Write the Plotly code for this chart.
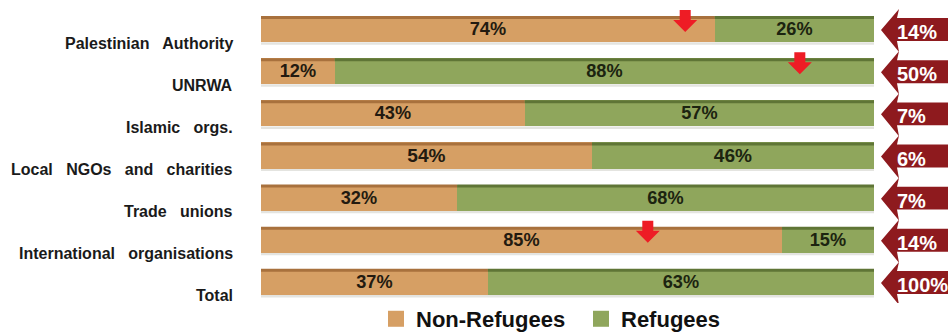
import plotly.graph_objects as go

# ---------------- data ----------------
categories = ["Palestinian\u00a0\u00a0 Authority", "UNRWA", "Islamic\u00a0\u00a0 orgs.",
              "Local\u00a0\u00a0 NGOs\u00a0\u00a0 and\u00a0\u00a0 charities", "Trade\u00a0\u00a0 unions",
              "International\u00a0\u00a0 organisations", "Total"]
non_refugees = [74, 12, 43, 54, 32, 85, 37]
refugees = [26, 88, 57, 46, 68, 15, 63]
share_labels = ["14%", "50%", "7%", "6%", "7%", "14%", "100%"]
red_marker_rows = [0, 1, 5]
red_marker_x = [69.2, 87.9, 63.1]

# ---------------- style ----------------
W, H = 948, 333
L, R, T, B = 261, 74, 7.5, 30
PW = W - L - R
PH = H - T - B
YUNIT = PH / 7.0          # pixels per category
XUNIT = PW / 100.0        # pixels per percent

C_ORANGE = "#D69F64"
C_GREEN = "#8FA65C"
C_ORANGE_EDGE = "#A8713D"
C_GREEN_EDGE = "#5F7536"
C_ARROW = "#8E1A1E"
C_RED = "#EE1C25"
FONT = "Liberation Sans, Arial, sans-serif"
BAR_W = 0.62

ypos = list(range(len(categories)))


def px_to_paper_x(px):
    return (px - L) / PW


fig = go.Figure()
fig.add_trace(go.Bar(
    y=ypos, x=non_refugees, orientation="h", name="Non-Refugees",
    marker=dict(color=C_ORANGE, line=dict(width=0)), width=BAR_W,
    text=[f"{v}%" for v in non_refugees], textposition="inside",
    insidetextanchor="middle", textangle=0,
    textfont=dict(family=FONT, size=20, color="#231a10", weight="bold"),
    showlegend=False, hoverinfo="skip"))
fig.add_trace(go.Bar(
    y=ypos, x=refugees, orientation="h", name="Refugees",
    marker=dict(color=C_GREEN, line=dict(width=0)), width=BAR_W,
    text=[f"{v}%" for v in refugees], textposition="inside",
    insidetextanchor="middle", textangle=0,
    textfont=dict(family=FONT, size=20, color="#1c2410", weight="bold"),
    showlegend=False, hoverinfo="skip"))

# legend entries
for nm, col in [("Non-Refugees", C_ORANGE), ("Refugees", C_GREEN)]:
    fig.add_trace(go.Scatter(x=[None], y=[None], mode="markers", name=nm,
                             marker=dict(symbol="square", size=16, color=col),
                             showlegend=True, hoverinfo="skip"))

shapes = []
annotations = []
edge_h = 3.0 / YUNIT
for i, (nr, rf) in enumerate(zip(non_refugees, refugees)):
    top = i - BAR_W / 2
    bot = i + BAR_W / 2
    # darker top edge (3D look)
    shapes.append(dict(type="rect", xref="x", yref="y", x0=0, x1=nr, y0=top, y1=top + edge_h,
                       fillcolor=C_ORANGE_EDGE, line=dict(width=0), layer="above"))
    shapes.append(dict(type="rect", xref="x", yref="y", x0=nr, x1=nr + rf, y0=top, y1=top + edge_h,
                       fillcolor=C_GREEN_EDGE, line=dict(width=0), layer="above"))
    # light shadow below
    shapes.append(dict(type="rect", xref="x", yref="y", x0=0, x1=nr + rf, y0=bot, y1=bot + 2.5 / YUNIT,
                       fillcolor="#E4E4E0", line=dict(width=0), layer="below"))
    # dark right cap
    shapes.append(dict(type="rect", xref="x", yref="y", x0=nr + rf, x1=nr + rf + 3 / XUNIT,
                       y0=top, y1=bot, fillcolor="#4A5E2A", line=dict(width=0), layer="above"))

    # left-pointing share arrow (paper x, data y)
    def P(px, dy):
        return f"{px_to_paper_x(px):.5f},{i + dy / YUNIT:.5f}"
    path = ("M " + P(881, 1) + " L " + P(899, -20) + " L " + P(897, -11) + " L " + P(950, -11)
            + " L " + P(950, 12) + " L " + P(897, 12) + " L " + P(899, 23) + " Z")
    shapes.append(dict(type="path", xref="paper", yref="y", path=path,
                       fillcolor=C_ARROW, line=dict(width=0), layer="above"))
    annotations.append(dict(x=px_to_paper_x(895), y=i, xref="paper", yref="y",
                            text=share_labels[i], showarrow=False, xanchor="left",
                            yanchor="middle", yshift=-3,
                            font=dict(family=FONT, size=20, color="white", weight="bold")))
    # category label (offset below bar centre)
    annotations.append(dict(x=px_to_paper_x(235), y=i, xref="paper", yref="y",
                            text=categories[i], showarrow=False, xanchor="right",
                            yanchor="middle", yshift=-14,
                            font=dict(family=FONT, size=16, color="#1a1a1a", weight="bold")))

# red down arrows
for r, xv in zip(red_marker_rows, red_marker_x):
    sx = 5.5 / XUNIT
    hx = 12 / XUNIT
    y_top = r - 19 / YUNIT
    y_mid = r - 9 / YUNIT
    y_tip = r + 3 / YUNIT
    path = (f"M {xv - sx},{y_top} L {xv + sx},{y_top} L {xv + sx},{y_mid} L {xv + hx},{y_mid} "
            f"L {xv},{y_tip} L {xv - hx},{y_mid} L {xv - sx},{y_mid} Z")
    shapes.append(dict(type="path", xref="x", yref="y", path=path,
                       fillcolor=C_RED, line=dict(width=0), layer="above"))

fig.update_layout(
    width=W, height=H,
    margin=dict(l=L, r=R, t=T, b=B, pad=0, autoexpand=False),
    barmode="stack", bargap=0,
    plot_bgcolor="white", paper_bgcolor="white",
    xaxis=dict(range=[0, 100], visible=False, fixedrange=True),
    yaxis=dict(range=[6.5, -0.5], visible=False, fixedrange=True),
    shapes=shapes, annotations=annotations,
    showlegend=True,
    legend=dict(orientation="h", x=px_to_paper_x(376), xanchor="left",
                y=-(319 - (T + PH)) / PH, yanchor="middle", traceorder="normal",
                font=dict(family=FONT, size=22, color="#111111", weight="bold"),
                bgcolor="rgba(0,0,0,0)", itemclick=False, itemdoubleclick=False,
                tracegroupgap=0, itemwidth=30, entrywidth=160, entrywidthmode="pixels"),
    font=dict(family=FONT),
)

fig.write_html("out.html", config={"displayModeBar": False},
               post_script="document.body.style.margin='0';")
